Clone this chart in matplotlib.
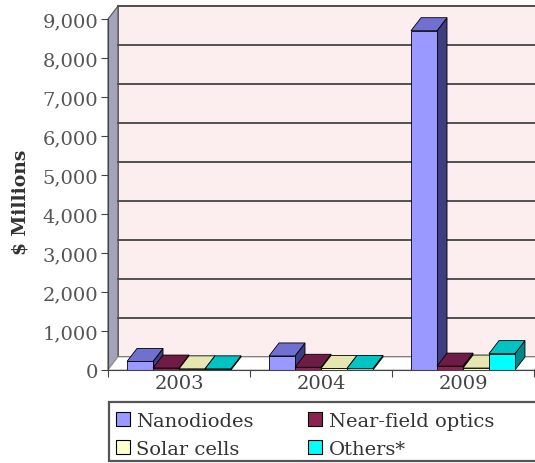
import matplotlib
matplotlib.use("Agg")
import matplotlib.pyplot as plt
from matplotlib.patches import Polygon, Rectangle, Patch
from matplotlib.ticker import FuncFormatter

years = ["2003", "2004", "2009"]
series_names = ["Nanodiodes", "Near-field optics", "Solar cells", "Others*"]
nanodiodes = [220, 360, 8700]
near_field = [50, 70, 100]
solar_cells = [30, 40, 50]
others = [30, 40, 420]

# front, top, side shades for each series
shades = [
    ("#9999FF", "#7070D0", "#3D3D80"),
    ("#8B2252", "#6E1B45", "#4D0F30"),
    ("#FFFFCC", "#E6E6B0", "#B8B890"),
    ("#00FFFF", "#00C4C4", "#008888"),
]

W, H = 535, 464
fig = plt.figure(figsize=(W / 100, H / 100), dpi=100)
fig.patch.set_facecolor("white")

# axes box in pixels: front axis x 108..534, y 371 (0) .. 20 (9000)
left_px, right_px, zero_px, top_px = 108, 534, 371, 20
ax = fig.add_axes([left_px / W, (H - zero_px) / H,
                   (right_px - left_px) / W, (zero_px - top_px) / H])
ymax = 9000
ax.set_xlim(0, len(years))
ax.set_ylim(0, ymax)
ax.patch.set_visible(False)

# depth offset of the 3d box, in pixels -> data units
px_x = len(years) / (right_px - left_px)
px_y = ymax / (zero_px - top_px)
dx, dy = 10 * px_x, 13 * px_y
nx = len(years)

# back wall, left wall, floor
ax.add_patch(Polygon([(dx, dy), (nx + dx, dy), (nx + dx, ymax + dy), (dx, ymax + dy)],
                     closed=True, facecolor="#FCEEEE", edgecolor="#555555", lw=1.2,
                     clip_on=False, zorder=1))
ax.add_patch(Polygon([(0, 0), (dx, dy), (dx, ymax + dy), (0, ymax)],
                     closed=True, facecolor="#A3A3BA", edgecolor="#555555", lw=0.8,
                     clip_on=False, zorder=1))
ax.add_patch(Polygon([(0, 0), (nx, 0), (nx + dx, dy), (dx, dy)],
                     closed=True, facecolor="white", edgecolor="#999999", lw=0.6,
                     clip_on=False, zorder=1))
for v in range(1000, ymax + 1, 1000):
    ax.plot([dx, nx + dx], [v + dy, v + dy], color="#505050", lw=1.4,
            clip_on=False, zorder=2)


def draw_bar(x0, w, h, cols, z):
    front, top, side = cols
    ax.add_patch(Polygon([(x0 + w, 0), (x0 + w + dx, dy), (x0 + w + dx, h + dy), (x0 + w, h)],
                         closed=True, facecolor=side, edgecolor="black", lw=0.6,
                         clip_on=False, zorder=z))
    ax.add_patch(Polygon([(x0, h), (x0 + w, h), (x0 + w + dx, h + dy), (x0 + dx, h + dy)],
                         closed=True, facecolor=top, edgecolor="black", lw=0.6,
                         clip_on=False, zorder=z))
    ax.add_patch(Rectangle((x0, 0), w, h, facecolor=front, edgecolor="black", lw=0.6,
                           clip_on=False, zorder=z))


all_series = [nanodiodes, near_field, solar_cells, others]
bar_w = 0.183
gap = (1 - bar_w * len(all_series)) / 2
z = 3
for i in range(nx):
    for j, vals in enumerate(all_series):
        draw_bar(i + gap + j * bar_w, bar_w, vals[i], shades[j], z)
        z += 1

# axes and ticks
for s in ("top", "right"):
    ax.spines[s].set_visible(False)
ax.spines["left"].set_color("#444444")
ax.spines["bottom"].set_color("#444444")
ax.spines["left"].set_zorder(50)
ax.spines["bottom"].set_zorder(50)
ax.set_yticks(range(0, ymax + 1, 1000))
ax.yaxis.set_major_formatter(FuncFormatter(lambda v, p: f"{int(v):,}"))
ax.set_xticks(range(nx + 1))
ax.set_xticklabels([])
ax.set_xticks([i + 0.5 for i in range(nx)], minor=True)
ax.set_xticklabels(years, minor=True)
ax.tick_params(axis="y", direction="out", length=5, color="#444444",
               labelsize=14, labelcolor="#555555", pad=2)
ax.tick_params(axis="x", which="major", direction="out", length=5, color="#444444")
ax.tick_params(axis="x", which="minor", length=0, labelsize=14,
               labelcolor="#444444", pad=3)
for lbl in ax.get_yticklabels() + ax.get_xticklabels(minor=True):
    lbl.set_family("DejaVu Serif")

fig.text(21 / W, 1 - 202 / H, "$ Millions", rotation=90, ha="center", va="center",
         family="DejaVu Serif", fontsize=13.5, fontweight="bold", color="#333333")

# legend box
fig.patches.append(Rectangle((109 / W, 1 - 462 / H), (W + 5 - 109) / W, 59 / H,
                             transform=fig.transFigure, facecolor="white",
                             edgecolor="#555555", lw=1.6, figure=fig))
handles = [Patch(facecolor=shades[k][0], edgecolor="black", lw=0.8, label=series_names[k])
           for k in (0, 2, 1, 3)]
fig.legend(handles=handles, ncol=2, frameon=False, loc="upper left",
           bbox_to_anchor=(114 / W, 1 - 411 / H), prop={"family": "DejaVu Serif", "size": 14},
           handlelength=0.7, handleheight=0.7, handletextpad=0.35,
           columnspacing=2.8, labelspacing=0.5, borderaxespad=0, borderpad=0.1,
           labelcolor="#333333")

fig.savefig("out.png", dpi=100)
